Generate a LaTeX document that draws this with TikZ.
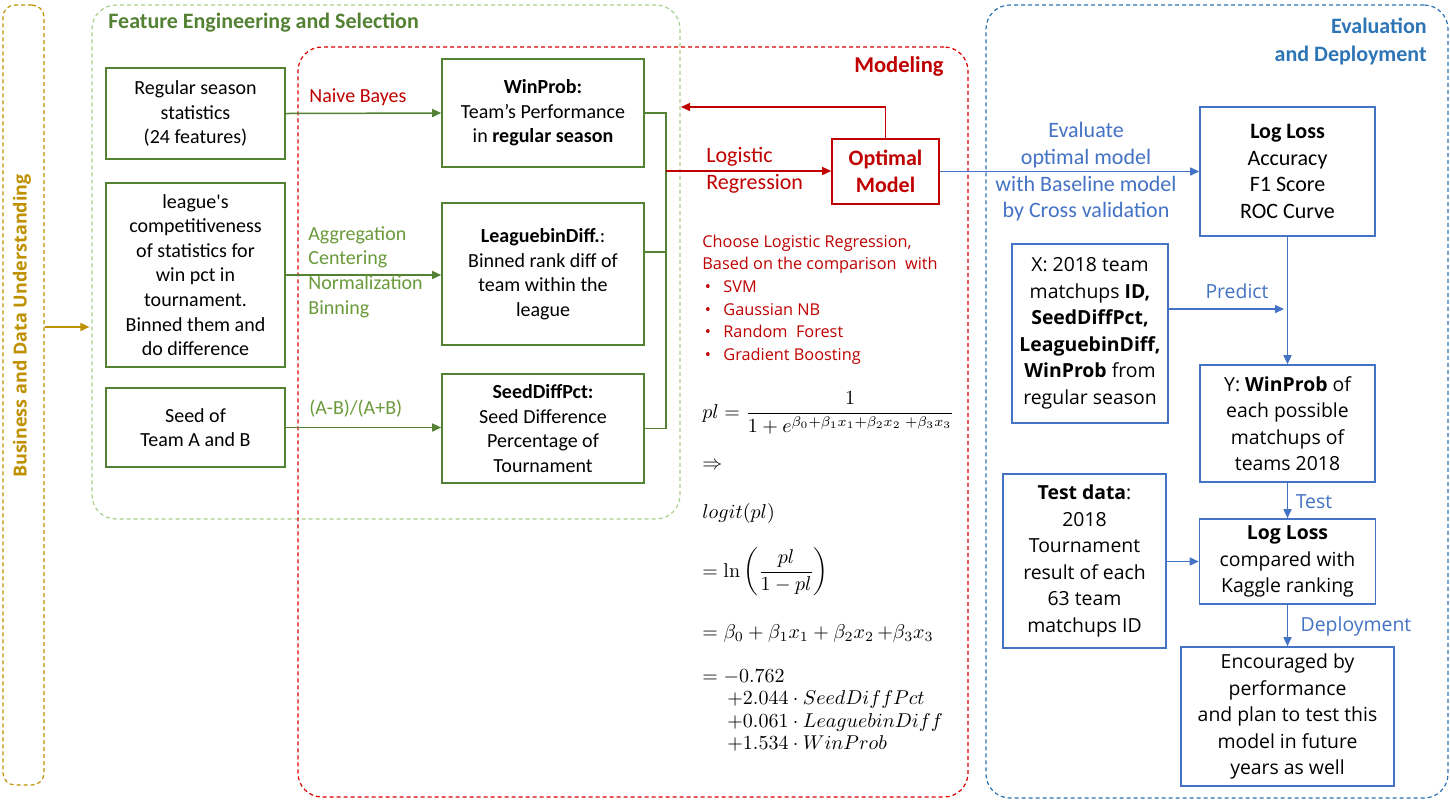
\documentclass[tikz,border=0pt]{standalone}
\usepackage{amsmath}
\usepackage[no-math]{fontspec}
\setmainfont{Carlito}
\newfontfamily\segoe{Open Sans}
\newfontfamily\calplain[Ligatures=ResetAll]{Carlito}
\usetikzlibrary{arrows.meta}
\definecolor{gold}{HTML}{BF9000}
\definecolor{fgreen}{HTML}{548235}
\definecolor{lgreen}{HTML}{A9D18E}
\definecolor{lblgreen}{HTML}{6A9A3A}
\definecolor{mred}{HTML}{C00000}
\definecolor{dred}{HTML}{E00000}
\definecolor{eblue}{HTML}{2E75B6}
\definecolor{bblue}{HTML}{4472C4}
\newcommand\calf{\fontsize{10}{12.3}\selectfont}
\newcommand\calbig{\fontsize{11}{13.35}\selectfont}
\newcommand\segf{\segoe\fontsize{9.7}{13.25}\selectfont}
\begin{document}
\begin{tikzpicture}[x=0.5pt,y=-0.5pt,
  grp/.style={draw, dashed, dash pattern=on 2pt off 1.5pt, line width=0.6pt, rounded corners=12pt, inner sep=0pt},
  gbox/.style={draw=fgreen, line width=0.8pt, inner sep=0pt, align=center, font=\calf, text=black},
  bbox/.style={draw=bblue, line width=0.8pt, inner sep=0pt, align=center, font=\segf, text=black},
  arr/.style={-{Triangle[length=4.5pt,width=4pt]}, line width=0.75pt},
  lbl/.style={inner sep=0pt, font=\calf},
]
\useasboundingbox (0,0) rectangle (1450,800);
\fill[white] (0,0) rectangle (1450,800);

% group frames
\node[grp, draw=gold, rounded corners=6pt, minimum width=20.5pt, minimum height=390pt] (bdu) at (23.5,395) {};
\node[grp, draw=lgreen, minimum width=294pt, minimum height=257pt] (feat) at (386,262) {};
\node[grp, draw=dred, minimum width=335pt, minimum height=375pt] (model) at (633,422) {};
\node[grp, draw=eblue, minimum width=231pt, minimum height=396.5pt] (evalg) at (1217,401.5) {};

% titles
\node[rotate=90, inner sep=0pt, font=\segoe\bfseries\fontsize{9}{10}\selectfont, text=gold] (tbdu) at (22,326) {Business and Data Understanding};
\node[lbl, font=\bfseries\fontsize{11}{13}\selectfont, text=fgreen, anchor=west] (tfe) at (108,23) {Feature Engineering and Selection};
\node[lbl, font=\bfseries\fontsize{11.3}{13}\selectfont, text=mred, anchor=east] (tmod) at (944,66) {Modeling};
\node[lbl, font=\bfseries\fontsize{11}{14}\selectfont, text=eblue, anchor=east, align=right] (tev) at (1427,41) {Evaluation\\and Deployment};

\coordinate (ba) at (0,327);
\draw[arr, draw=gold] (bdu.east |- ba) -- ([xshift=-1pt]feat.west |- ba);

% left boxes
\node[gbox, minimum width=89.5pt, minimum height=45.5pt] (reg) at (195.5,113.5) {Regular season\\statistics\\(24 features)};
\node[gbox, minimum width=89.5pt, minimum height=92pt] (league) at (195.5,275) {{\calplain league's}\\competitiveness\\of statistics for\\win pct in\\tournament.\\Binned them and\\do difference};
\node[gbox, minimum width=89.5pt, minimum height=39.5pt] (seed) at (195.5,427.5) {Seed of\\Team A and B};

% middle boxes
\node[gbox, minimum width=101pt, minimum height=54pt] (winp) at (543,113) {\textbf{WinProb:}\\Team’s Performance\\in \textbf{regular season}};
\node[gbox, minimum width=101pt, minimum height=71pt] (lbd) at (543,274) {\textbf{LeaguebinDiff.}:\\Binned rank diff of\\team within the\\league};
\node[gbox, minimum width=101pt, minimum height=54.5pt] (sdp) at (543,428.5) {\textbf{SeedDiffPct:}\\Seed Difference\\Percentage of\\Tournament};

% arrows left -> middle
\draw[arr, draw=fgreen] (reg.east) -- (winp.west);
\draw[arr, draw=fgreen] (league.east) -- (lbd.west |- league.east);
\draw[arr, draw=fgreen] (seed.east) -- (sdp.west |- seed.east);

\node[lbl, text=mred, anchor=west] (lnb) at (309,97) {Naive Bayes};
\node[lbl, text=lblgreen, anchor=west, align=left, font=\fontsize{10}{12.35}\selectfont] (lagg) at (308,272) {Aggregation\\Centering\\Normalization\\Binning};
\node[lbl, text=lblgreen, anchor=west] (lab) at (309,409) {(A-B)/(A+B)};

% bracket
\coordinate (bj) at (666,171);
\coordinate (lj) at (0,252);
\draw[fgreen, line width=0.75pt] (winp.east) -- (winp.east -| bj) -- (sdp.east -| bj) -- (sdp.east);
\draw[fgreen, line width=0.75pt] (lbd.east |- lj) -- (bj |- lj);

% optimal model
\node[draw=mred, line width=0.8pt, inner sep=0pt, minimum width=53.5pt, minimum height=32.5pt, align=center, text=mred, font=\bfseries\fontsize{11}{13.5}\selectfont] (opt) at (885.5,171.5) {Optimal\\Model};
\draw[arr, draw=mred] (bj) -- (opt.west |- bj);
\node[lbl, text=mred, anchor=west, align=left, font=\fontsize{11}{13.5}\selectfont] (llr) at (706,170.5) {Logistic\\Regression};
\coordinate (fb) at (681,107);
\draw[arr, draw=mred] (opt.north) -- (opt.north |- fb) -- (fb);

% choice list
\node[inner sep=0pt, anchor=west, align=left, text=mred, font=\segoe\fontsize{8.15}{11.3}\selectfont] (choose) at (702,299.5) {Choose Logistic Regression,\\Based on the comparison\ \ with\\\hbox to 10.5pt{\hspace{1.2pt}\textbullet\hfil}SVM\\\hbox to 10.5pt{\hspace{1.2pt}\textbullet\hfil}Gaussian NB\\\hbox to 10.5pt{\hspace{1.2pt}\textbullet\hfil}Random\ \ Forest\\\hbox to 10.5pt{\hspace{1.2pt}\textbullet\hfil}Gradient Boosting};

% formulas
\node[inner sep=0pt, anchor=west] (f1) at (702,413) {$pl=\dfrac{1}{1+e^{\beta_0+\beta_1x_1+\beta_2x_2\;+\beta_3x_3}}$};
\node[inner sep=0pt, anchor=west] (f2) at (702,466) {$\Rightarrow$};
\node[inner sep=0pt, anchor=west] (f3) at (702,513) {$logit(pl)$};
\node[inner sep=0pt, anchor=west] (f4) at (702,572) {$=\ln\left(\dfrac{pl}{1-pl}\right)$};
\node[inner sep=0pt, anchor=west] (f5) at (702,633) {$=\beta_0+\beta_1x_1+\beta_2x_2\,{+}\beta_3x_3$};
\node[inner sep=0pt, anchor=west, align=left, font=\fontsize{10}{11.2}\selectfont] (f6) at (702,710.5) {$=-0.762$\\\hspace*{12.5pt}$+2.044\cdot SeedDiffPct$\\\hspace*{12.5pt}$+0.061\cdot LeaguebinDiff$\\\hspace*{12.5pt}$+1.534\cdot WinProb$};

% evaluation
\node[draw=bblue, line width=0.8pt, inner sep=0pt, minimum width=87.5pt, minimum height=64.5pt, align=center, font=\calbig] (ll) at (1287.5,171.5) {\textbf{Log Loss}\\Accuracy\\F1 Score\\ROC Curve};
\draw[arr, draw=bblue] (opt.east) -- (ll.west |- opt.east);
\node[lbl, text=bblue, align=center, font=\calbig] (lev) at (1086,172) {Evaluate\\optimal model\\with Baseline model\\by Cross validation};

\node[bbox, minimum width=78pt, minimum height=89.5pt] (xb) at (1090,333.5) {X: 2018 team\\matchups \textbf{ID,}\\\textbf{SeedDiffPct,}\\\textbf{LeaguebinDiff,}\\\textbf{WinProb} from\\regular season};
\node[bbox, minimum width=87.5pt, minimum height=58.5pt] (yb) at (1287.5,423.5) {Y: \textbf{WinProb} of\\each possible\\matchups of\\teams 2018};
\node[bbox, minimum width=88pt, minimum height=42.5pt] (ll2) at (1287.5,561.5) {\textbf{Log Loss}\\compared with\\Kaggle ranking};
\node[bbox, minimum width=81.5pt, minimum height=87pt] (tb) at (1084.5,561) {\textbf{Test data}:\\2018\\Tournament\\result of each\\63 team\\matchups ID};
\node[bbox, minimum width=106.5pt, minimum height=69.5pt] (enc) at (1287.5,716.5) {Encouraged by\\performance\\and plan to test this\\model in future\\years as well};

\draw[arr, draw=bblue] (ll.south) -- (yb.north);
\coordinate (pr) at (1284,309);
\draw[arr, draw=bblue] (xb.east |- pr) -- (pr);
\node[inner sep=0pt, text=bblue, font=\segf] (lpr) at (1237,291) {Predict};
\draw[arr, draw=bblue] (yb.south) -- (ll2.north);
\node[inner sep=0pt, text=bblue, font=\segf] (lte) at (1314,502) {Test};
\draw[arr, draw=bblue] (tb.east |- ll2.west) -- (ll2.west);
\draw[arr, draw=bblue] (ll2.south) -- (enc.north);
\node[inner sep=0pt, text=bblue, font=\segf] (lde) at (1356,626) {Deployment};
\end{tikzpicture}
\end{document}
